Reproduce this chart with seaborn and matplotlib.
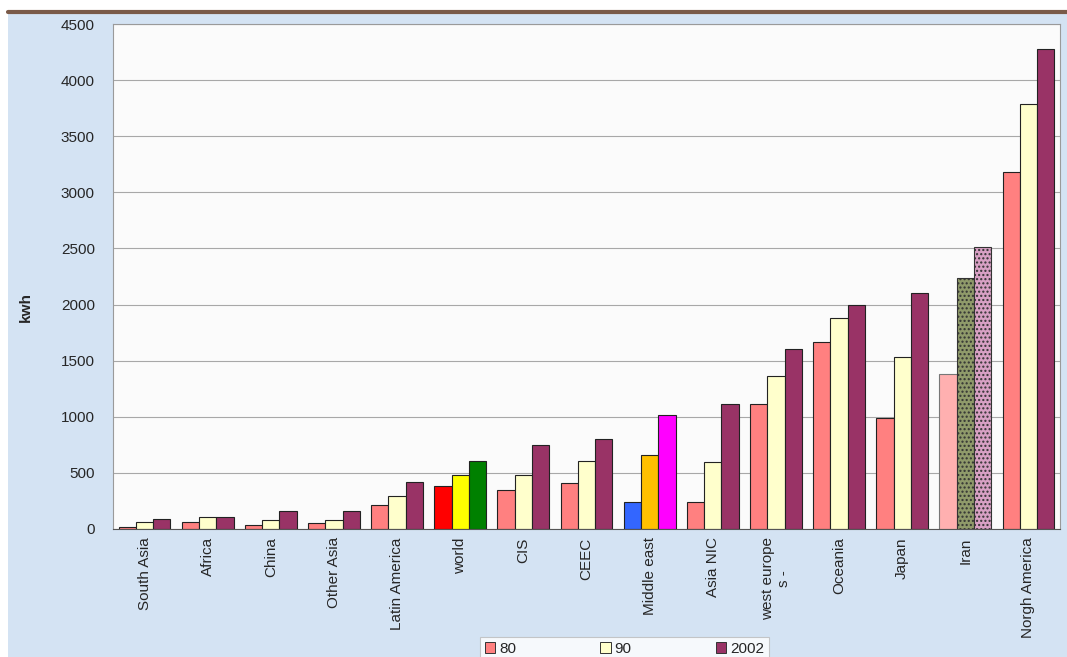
import pandas as pd
import matplotlib.pyplot as plt
import seaborn as sns
from matplotlib.patches import Rectangle, Patch
from matplotlib.lines import Line2D

# per capita electricity use (kwh)
regions = ['South Asia', 'Africa', 'China', 'Other Asia', 'Latin America', 'world',
           'CIS', 'CEEC', 'Middle east', 'Asia NIC', 'west europe\ns -', 'Oceania',
           'Japan', 'Iran', 'Norgh America']
years = ['80', '90', '2002']
kwh_80 = [20, 65, 35, 50, 215, 385, 345, 410, 240, 245, 1110, 1670, 990, 1385, 3180]
kwh_90 = [60, 105, 80, 80, 290, 480, 480, 605, 655, 600, 1365, 1880, 1535, 2235, 3785]
kwh_2002 = [90, 110, 160, 160, 415, 605, 745, 800, 1015, 1115, 1600, 2000, 2100, 2515, 4275]
yticks = [0, 500, 1000, 1500, 2000, 2500, 3000, 3500, 4000, 4500]

year_colors = ['#ff8080', '#ffffcc', '#993366']
# highlighted groups get their own colours
special = {
    'world': ['#ff0000', '#ffff00', '#008000'],
    'Middle east': ['#3366ff', '#ffc000', '#ff00ff'],
    'Iran': ['#ffb0b0', '#8f9a6a', '#d8a0c4'],
}

df = pd.DataFrame({
    'region': regions * 3,
    'year': [y for y in years for _ in regions],
    'kwh': kwh_80 + kwh_90 + kwh_2002,
})

sns.set_style('white')
plt.rcParams['font.family'] = ['Liberation Sans', 'DejaVu Sans']
plt.rcParams['hatch.color'] = '#555555'

fig = plt.figure(figsize=(10.67, 6.57), dpi=100, facecolor='white')
# light blue slide background and brown top rule
fig.add_artist(Rectangle((8 / 1067, 0), 1 - 8 / 1067, 1 - 12 / 657,
                         transform=fig.transFigure, facecolor='#d4e3f3', edgecolor='none', zorder=0))
fig.add_artist(Line2D([8 / 1067, 1], [1 - 12 / 657, 1 - 12 / 657], transform=fig.transFigure,
                      color='#7a5a48', linewidth=3, zorder=1))

ax = fig.add_axes([113 / 1067, 1 - 529 / 657, (1060 - 113) / 1067, (529 - 24) / 657])
ax.set_facecolor('#fbfbfb')

sns.barplot(data=df, x='region', y='kwh', hue='year', order=regions, hue_order=years,
            palette=year_colors, width=0.82, edgecolor='#222222', linewidth=0.8,
            saturation=1, legend=False, ax=ax)

for h, cont in enumerate(ax.containers):
    for i, bar in enumerate(cont):
        name = regions[i]
        if name in special:
            bar.set_facecolor(special[name][h])
            if name == 'Iran':
                bar.set_edgecolor('#777777' if h == 0 else '#333333')
                if h > 0:
                    bar.set_hatch('....')

ax.set_xlim(-0.5, len(regions) - 0.5)
ax.set_ylim(0, 4500)
ax.set_yticks(yticks)
ax.set_yticklabels([str(t) for t in yticks], fontsize=11)
ax.yaxis.grid(True, color='#a8a8a8', linewidth=0.8)
ax.set_axisbelow(True)
ax.tick_params(axis='y', length=5, color='#999999', pad=8)
ax.tick_params(axis='x', length=0, pad=6)
plt.setp(ax.get_xticklabels(), rotation=90, fontsize=11, ha='center', va='top')

ax.set_xlabel('')
ax.set_ylabel('kwh', fontsize=11, fontweight='bold')
ax.yaxis.set_label_coords(-80 / 947, 0.44)
for side in ['left', 'right', 'top']:
    ax.spines[side].set_color('#9a9a9a')
    ax.spines[side].set_linewidth(0.8)
ax.spines['bottom'].set_color('#555555')

handles = [Patch(facecolor=c, edgecolor='#333333', linewidth=0.7) for c in year_colors]
leg = fig.legend(handles, years, loc='upper left', ncol=3,
                 bbox_to_anchor=(480 / 1067, 1 - 637 / 657),
                 frameon=True, fancybox=False, edgecolor='#bbbbbb', facecolor='white',
                 fontsize=11, handlelength=0.7, handleheight=0.7, handletextpad=0.25,
                 columnspacing=5.5, borderpad=0.3, borderaxespad=0)
leg.get_frame().set_linewidth(0.8)

fig.savefig('out.png', dpi=100, facecolor=fig.get_facecolor())
